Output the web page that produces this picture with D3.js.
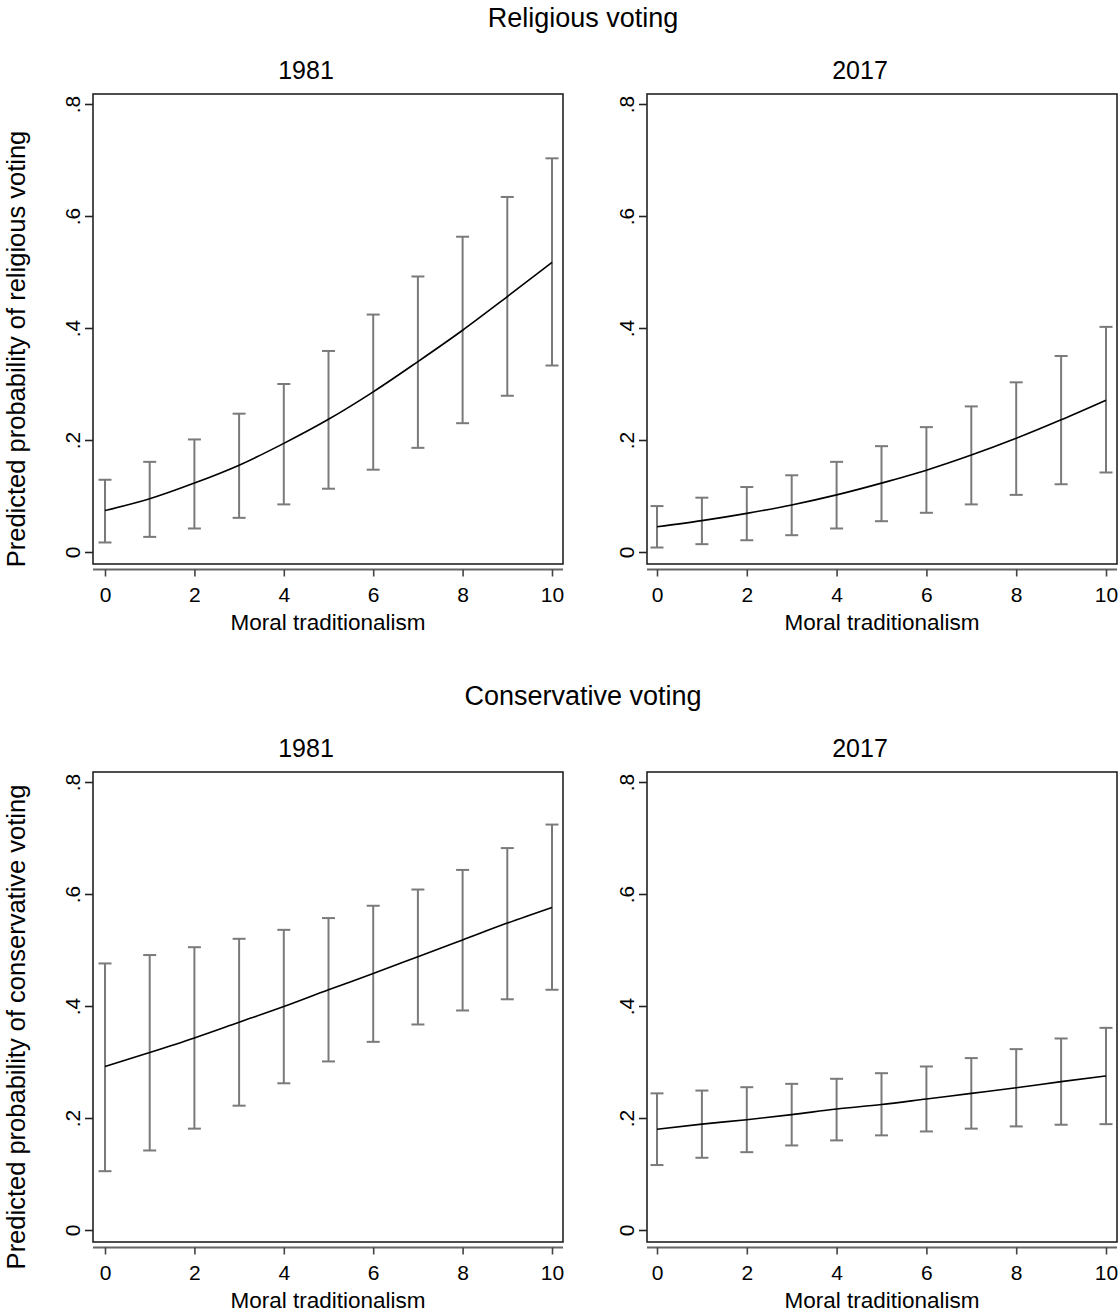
<!DOCTYPE html>
<html>
<head>
<meta charset="utf-8">
<script src="https://cdn.jsdelivr.net/npm/d3@7/dist/d3.min.js"></script>
<style>
  body { margin: 0; background: #fff; }
  svg text { font-family: "Liberation Sans", Arial, sans-serif; fill: #000; }
</style>
</head>
<body>
<div id="chart"></div>
<script>
// moral traditionalism scale points
const traditionalism = [0, 1, 2, 3, 4, 5, 6, 7, 8, 9, 10];
const yTicks = [0, 0.2, 0.4, 0.6, 0.8];
const xTicks = [0, 2, 4, 6, 8, 10];
const yTickLabels = ['0', '.2', '.4', '.6', '.8'];

// Religious voting, 1981
const relig1981Est = [0.074, 0.095, 0.123, 0.155, 0.194, 0.237, 0.286, 0.340, 0.396, 0.456, 0.517];
const relig1981Lo  = [0.017, 0.027, 0.042, 0.061, 0.085, 0.113, 0.147, 0.186, 0.230, 0.279, 0.333];
const relig1981Hi  = [0.129, 0.161, 0.201, 0.247, 0.300, 0.359, 0.424, 0.492, 0.563, 0.634, 0.703];

// Religious voting, 2017
const relig2017Est = [0.045, 0.056, 0.069, 0.084, 0.102, 0.123, 0.146, 0.173, 0.203, 0.236, 0.271];
const relig2017Lo  = [0.008, 0.014, 0.021, 0.030, 0.042, 0.055, 0.070, 0.085, 0.102, 0.121, 0.142];
const relig2017Hi  = [0.082, 0.097, 0.116, 0.137, 0.161, 0.189, 0.223, 0.260, 0.303, 0.350, 0.402];

// Conservative voting, 1981
const cons1981Est = [0.292, 0.317, 0.343, 0.371, 0.399, 0.429, 0.458, 0.488, 0.518, 0.548, 0.576];
const cons1981Lo  = [0.105, 0.142, 0.181, 0.222, 0.262, 0.301, 0.336, 0.367, 0.392, 0.412, 0.429];
const cons1981Hi  = [0.476, 0.491, 0.505, 0.520, 0.536, 0.557, 0.579, 0.608, 0.643, 0.682, 0.724];

// Conservative voting, 2017
const cons2017Est = [0.180, 0.189, 0.197, 0.206, 0.216, 0.224, 0.234, 0.244, 0.254, 0.265, 0.275];
const cons2017Lo  = [0.116, 0.129, 0.139, 0.151, 0.160, 0.169, 0.176, 0.181, 0.185, 0.188, 0.189];
const cons2017Hi  = [0.244, 0.249, 0.255, 0.261, 0.270, 0.280, 0.292, 0.307, 0.323, 0.342, 0.361];

const rows = [
  {title: 'Religious voting', ylabel: 'Predicted probability of religious voting', y0: 552,
   panels: [{year: '1981', est: relig1981Est, lo: relig1981Lo, hi: relig1981Hi},
            {year: '2017', est: relig2017Est, lo: relig2017Lo, hi: relig2017Hi}]},
  {title: 'Conservative voting', ylabel: 'Predicted probability of conservative voting', y0: 1230,
   panels: [{year: '1981', est: cons1981Est, lo: cons1981Lo, hi: cons1981Hi},
            {year: '2017', est: cons2017Est, lo: cons2017Lo, hi: cons2017Hi}]}
];

const columns = [
  {boxLeft: 93, xStart: 105, xEnd: 552, titleX: 306},
  {boxLeft: 647, xStart: 657, xEnd: 1106, titleX: 860}
];
const boxWidth = 470;
const plotHeight = 448; // pixels from 0 to .8

const svg = d3.select('#chart')
  .append('svg')
  .attr('width', 1120)
  .attr('height', 1313);

rows.forEach(row => {
  // row title
  svg.append('text')
    .attr('x', 583)
    .attr('y', row.y0 - 525)
    .attr('text-anchor', 'middle')
    .style('font-size', '27px')
    .text(row.title);

  // y axis title
  svg.append('text')
    .attr('transform', `translate(25, ${row.y0 - 203}) rotate(-90)`)
    .attr('text-anchor', 'middle')
    .style('font-size', '25.5px')
    .text(row.ylabel);

  row.panels.forEach((p, i) => drawPanel(p, columns[i], row.y0));
});

/**
 * Draws one panel: frame, axes, error bars and the estimate line
 */
function drawPanel(p, col, y0) {
  const x = d3.scaleLinear().domain([0, 10]).range([col.xStart, col.xEnd]);
  const y = d3.scaleLinear().domain([0, 0.8]).range([y0, y0 - plotHeight]);

  const boxTop = y0 - plotHeight - 10;
  const boxBottom = y0 + 12;

  const g = svg.append('g');

  // panel title
  g.append('text')
    .attr('x', col.titleX)
    .attr('y', y0 - 473)
    .attr('text-anchor', 'middle')
    .style('font-size', '25px')
    .text(p.year);

  // plot region frame
  g.append('rect')
    .attr('x', col.boxLeft)
    .attr('y', boxTop)
    .attr('width', boxWidth)
    .attr('height', boxBottom - boxTop)
    .attr('fill', 'none')
    .attr('stroke', '#222')
    .attr('stroke-width', 1.6);

  // y axis
  const yAxis = g.append('g')
    .attr('transform', `translate(${col.boxLeft}, 0)`)
    .call(d3.axisLeft(y).tickValues(yTicks).tickSize(8)
      .tickFormat((d, i) => yTickLabels[i]));
  yAxis.select('.domain').remove();
  yAxis.selectAll('line').attr('stroke', '#222').attr('stroke-width', 1.6);
  yAxis.selectAll('text')
    .attr('x', null).attr('dy', null)
    .attr('text-anchor', 'middle')
    .attr('transform', 'translate(-13, 0) rotate(-90)')
    .style('font-size', '21px')
    .style('font-family', '"Liberation Sans", Arial, sans-serif')
    .attr('fill', '#000');

  // x axis, detached below the frame
  const axisY = y0 + 17.5;
  const xAxis = g.append('g')
    .attr('transform', `translate(0, ${axisY})`)
    .call(d3.axisBottom(x).tickValues(xTicks).tickSize(7).tickSizeOuter(0));
  xAxis.select('.domain')
    .attr('d', `M${col.boxLeft},0H${col.boxLeft + boxWidth}`)
    .attr('stroke', '#666')
    .attr('stroke-width', 2);
  xAxis.selectAll('line').attr('stroke', '#444').attr('stroke-width', 1.6);
  xAxis.selectAll('text')
    .attr('y', 32).attr('dy', null)
    .style('font-size', '21px')
    .style('font-family', '"Liberation Sans", Arial, sans-serif')
    .attr('fill', '#000');

  // x axis title
  g.append('text')
    .attr('x', col.boxLeft + boxWidth / 2)
    .attr('y', y0 + 78)
    .attr('text-anchor', 'middle')
    .style('font-size', '22.5px')
    .text('Moral traditionalism');

  // error bars
  const bars = g.append('g')
    .attr('stroke', '#7a7a7a')
    .attr('stroke-width', 2)
    .selectAll('g')
    .data(traditionalism)
    .enter()
    .append('g');

  bars.append('line')
    .attr('x1', d => x(d)).attr('x2', d => x(d))
    .attr('y1', (d, i) => y(p.lo[i])).attr('y2', (d, i) => y(p.hi[i]));
  bars.append('line')
    .attr('x1', d => x(d) - 6.5).attr('x2', d => x(d) + 6.5)
    .attr('y1', (d, i) => y(p.lo[i])).attr('y2', (d, i) => y(p.lo[i]));
  bars.append('line')
    .attr('x1', d => x(d) - 6.5).attr('x2', d => x(d) + 6.5)
    .attr('y1', (d, i) => y(p.hi[i])).attr('y2', (d, i) => y(p.hi[i]));

  // estimate line
  const line = d3.line()
    .x(d => x(d))
    .y((d, i) => y(p.est[i]))
    .curve(d3.curveMonotoneX);

  g.append('path')
    .datum(traditionalism)
    .attr('d', line)
    .attr('fill', 'none')
    .attr('stroke', '#000')
    .attr('stroke-width', 1.6);
}
</script>
</body>
</html>
